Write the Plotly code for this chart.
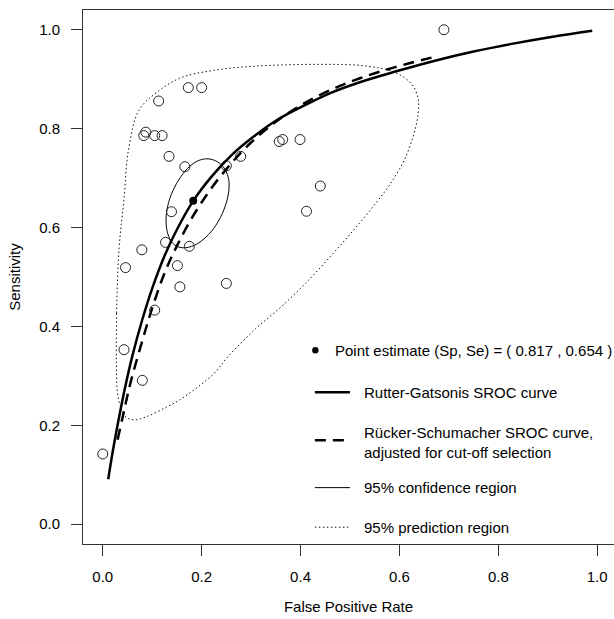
import plotly.graph_objects as go

# ---------------- data ----------------
study_fpr = [0.000, 0.043, 0.080, 0.046, 0.079, 0.105, 0.127, 0.151, 0.156, 0.175,
             0.139, 0.250, 0.166, 0.134, 0.083, 0.087, 0.105, 0.120, 0.113, 0.173,
             0.200, 0.250, 0.279, 0.357, 0.364, 0.399, 0.440, 0.412, 0.690]
study_sens = [0.142, 0.353, 0.291, 0.519, 0.555, 0.433, 0.570, 0.523, 0.480, 0.562,
              0.632, 0.487, 0.723, 0.744, 0.786, 0.793, 0.786, 0.786, 0.856, 0.883,
              0.883, 0.725, 0.744, 0.774, 0.778, 0.778, 0.684, 0.633, 1.000]

point_fpr = [0.183]
point_sens = [0.654]

rg_fpr = [0.011, 0.02, 0.03, 0.045, 0.06, 0.08, 0.10, 0.125, 0.15, 0.183, 0.22, 0.26,
          0.30, 0.35, 0.40, 0.46, 0.52, 0.59, 0.67, 0.75, 0.83, 0.91, 0.99]
rg_sens = [0.091, 0.146, 0.201, 0.276, 0.341, 0.414, 0.477, 0.543, 0.596, 0.654, 0.703, 0.746,
           0.780, 0.816, 0.843, 0.872, 0.894, 0.915, 0.937, 0.956, 0.972, 0.986, 0.998]

rs_fpr = [0.030, 0.040, 0.050, 0.060, 0.080, 0.100, 0.125, 0.150, 0.183, 0.220, 0.260,
          0.300, 0.350, 0.400, 0.460, 0.520, 0.590, 0.670]
rs_sens = [0.171, 0.216, 0.261, 0.301, 0.371, 0.437, 0.508, 0.563, 0.624, 0.680, 0.730,
           0.772, 0.814, 0.847, 0.878, 0.902, 0.924, 0.945]

conf_fpr = [0.213, 0.232, 0.247, 0.255, 0.254, 0.245, 0.229, 0.208, 0.185, 0.163,
            0.145, 0.133, 0.128, 0.131, 0.142, 0.158, 0.176, 0.195, 0.213]
conf_sens = [0.739, 0.733, 0.718, 0.695, 0.668, 0.636, 0.605, 0.580, 0.564, 0.559,
             0.565, 0.583, 0.610, 0.642, 0.675, 0.703, 0.724, 0.736, 0.739]

pred_fpr = [0.028, 0.028, 0.033, 0.043, 0.052, 0.073, 0.110, 0.158, 0.225, 0.300, 0.430,
            0.530, 0.590, 0.625, 0.638, 0.637, 0.628, 0.610, 0.582, 0.552, 0.510, 0.460,
            0.410, 0.360, 0.310, 0.255, 0.225, 0.190, 0.155, 0.131, 0.090, 0.063, 0.045,
            0.035, 0.030, 0.028]
pred_sens = [0.296, 0.427, 0.558, 0.659, 0.757, 0.837, 0.874, 0.903, 0.918, 0.926, 0.930,
             0.927, 0.914, 0.890, 0.860, 0.825, 0.785, 0.737, 0.689, 0.649, 0.598, 0.541,
             0.487, 0.439, 0.396, 0.341, 0.305, 0.276, 0.251, 0.238, 0.218, 0.211, 0.218,
             0.241, 0.264, 0.296]

tick_values = [0.0, 0.2, 0.4, 0.6, 0.8, 1.0]
tick_labels = ["0.0", "0.2", "0.4", "0.6", "0.8", "1.0"]

legend_labels = [
    "Point estimate (Sp, Se) = ( 0.817 , 0.654 )",
    "Rutter-Gatsonis SROC curve",
    "Rücker-Schumacher SROC curve,<br>adjusted for cut-off selection",
    "95% confidence region",
    "95% prediction region",
]

FONT = "Liberation Sans, Arial, Helvetica, sans-serif"
FS = 15
INK = "#000000"
DOT = "1.5px,2.5px"
DASH = "11px,7px"

fig = go.Figure()

fig.add_trace(go.Scatter(x=pred_fpr, y=pred_sens, mode="lines",
                         line=dict(color="#111111", width=1, dash=DOT, shape="spline", smoothing=1.0),
                         hoverinfo="skip", showlegend=False))
fig.add_trace(go.Scatter(x=conf_fpr, y=conf_sens, mode="lines",
                         line=dict(color=INK, width=1, shape="spline", smoothing=1.0),
                         hoverinfo="skip", showlegend=False))
fig.add_trace(go.Scatter(x=study_fpr, y=study_sens, mode="markers",
                         marker=dict(symbol="circle-open", size=10, color="#222222", line=dict(width=1)),
                         showlegend=False))
fig.add_trace(go.Scatter(x=rs_fpr, y=rs_sens, mode="lines",
                         line=dict(color=INK, width=2.5, dash=DASH, shape="spline"),
                         hoverinfo="skip", showlegend=False))
fig.add_trace(go.Scatter(x=rg_fpr, y=rg_sens, mode="lines",
                         line=dict(color=INK, width=2.5, shape="spline"),
                         hoverinfo="skip", showlegend=False))
fig.add_trace(go.Scatter(x=point_fpr, y=point_sens, mode="markers",
                         marker=dict(symbol="circle", size=8, color=INK),
                         showlegend=False))

# ---------------- legend (drawn manually, bottom right inside the box) ----------------
key_x0, key_x1 = 0.429, 0.500
text_x = 0.525
rows_y = [0.352, 0.267, 0.170, 0.074, -0.006]

shapes = []
shapes.append(dict(type="circle", xref="x", yref="y", xsizemode="pixel", ysizemode="pixel",
                   xanchor=0.430, yanchor=rows_y[0], x0=-3.2, x1=3.2, y0=-3.2, y1=3.2,
                   fillcolor=INK, line=dict(color=INK, width=0)))
shapes.append(dict(type="line", xref="x", yref="y", x0=key_x0, x1=key_x1, y0=rows_y[1], y1=rows_y[1],
                   line=dict(color=INK, width=2.5)))
shapes.append(dict(type="line", xref="x", yref="y", x0=key_x0, x1=key_x1, y0=rows_y[2], y1=rows_y[2],
                   line=dict(color=INK, width=2.5, dash=DASH)))
shapes.append(dict(type="line", xref="x", yref="y", x0=key_x0, x1=key_x1, y0=rows_y[3], y1=rows_y[3],
                   line=dict(color=INK, width=1)))
shapes.append(dict(type="line", xref="x", yref="y", x0=key_x0, x1=key_x1, y0=rows_y[4], y1=rows_y[4],
                   line=dict(color="#111111", width=1, dash=DOT)))

annotations = []
annotations.append(dict(x=0.465, y=rows_y[0], xref="x", yref="y", text=legend_labels[0],
                        showarrow=False, xanchor="left", yanchor="middle",
                        font=dict(family=FONT, size=FS, color=INK)))
for i in range(1, 5):
    annotations.append(dict(x=text_x, y=rows_y[i] - (0.004 if i == 2 else 0), xref="x", yref="y",
                            text=legend_labels[i], showarrow=False, xanchor="left", yanchor="middle",
                            align="left", font=dict(family=FONT, size=FS, color=INK)))

fig.update_layout(
    width=614, height=619,
    margin=dict(l=83, r=0, t=10, b=75),
    paper_bgcolor="white", plot_bgcolor="white",
    font=dict(family=FONT, size=FS, color=INK),
    shapes=shapes, annotations=annotations,
    showlegend=False,
)
fig.update_xaxes(range=[-0.04, -0.04 + 531 / 494.4], tickvals=tick_values, ticktext=tick_labels,
                 automargin=False,
                 showgrid=False, zeroline=False, showline=True, mirror=True, linecolor="#333333",
                 linewidth=1, ticks="outside", ticklen=11, tickcolor="#333333",
                 ticklabelstandoff=8,
                 title=dict(text="False Positive Rate", font=dict(family=FONT, size=FS), standoff=17))
fig.update_yaxes(range=[-0.04, 1.04], tickvals=tick_values, ticktext=tick_labels,
                 automargin=False,
                 showgrid=False, zeroline=False, showline=True, mirror=False, linecolor="#333333",
                 linewidth=1, ticks="outside", ticklen=11, tickcolor="#333333",
                 ticklabelstandoff=8,
                 title=dict(text="Sensitivity", font=dict(family=FONT, size=FS), standoff=14))

fig.write_html("out.html",
               config={"displayModeBar": False, "staticPlot": True},
               post_script="document.body.style.margin='0px';document.body.style.overflow='hidden';")
